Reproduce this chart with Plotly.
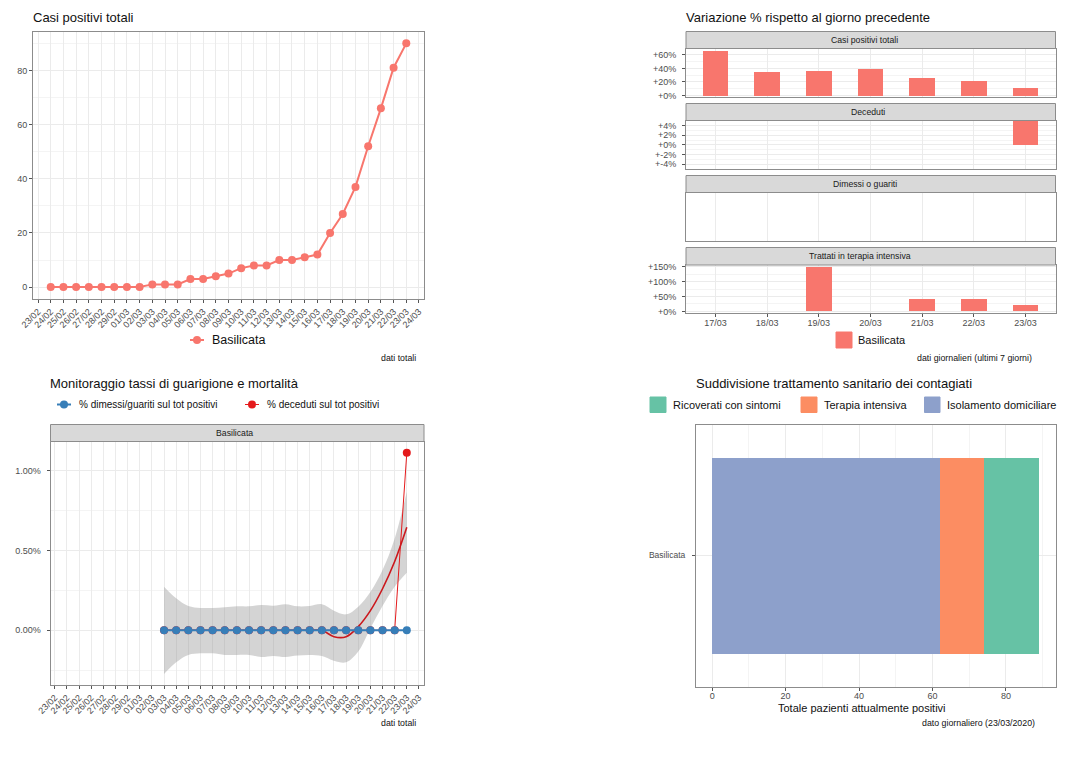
import pandas as pd
import plotly.graph_objects as go

W, H = 1067, 763
FONT = "Liberation Sans"

# casi positivi totali
casi_date = pd.date_range("2020-02-24", "2020-03-23").strftime("%Y-%m-%d").tolist()
casi_tot = [0, 0, 0, 0, 0, 0, 0, 0, 1, 1, 1, 3, 3, 4, 5, 7, 8, 8, 10, 10, 11, 12, 20, 27, 37, 52, 66, 81, 90]

# variazioni % ultimi 7 giorni
giorni = ["17/03", "18/03", "19/03", "20/03", "21/03", "22/03", "23/03"]
var_casi = [66.7, 35, 37, 40.5, 26.9, 22.7, 11.1]
var_deceduti = [None, None, None, None, None, None, 5]
var_dimessi = [None, None, None, None, None, None, None]
var_terapia = [None, None, 150, None, 40, 43, 20]

# tassi
tassi_date = pd.date_range("2020-03-03", "2020-03-23").strftime("%Y-%m-%d").tolist()
tasso_dimessi = [0] * 21
tasso_deceduti = [0] * 20 + [1.11]
smooth = [0, 0, 0, 0, 0, 0, 0, 0, 0, 0, 0, 0, 0, 0, -0.04, -0.04, 0.023, 0.123, 0.26, 0.43, 0.644]
smooth_up = [0.273, 0.2, 0.152, 0.14, 0.14, 0.144, 0.15, 0.15, 0.158, 0.154, 0.163, 0.15, 0.152, 0.163, 0.123, 0.1, 0.148, 0.24, 0.377, 0.575, 0.867]
smooth_lo = [-0.273, -0.2, -0.154, -0.144, -0.144, -0.154, -0.154, -0.154, -0.167, -0.16, -0.167, -0.158, -0.154, -0.16, -0.19, -0.2, -0.133, 0.013, 0.152, 0.273, 0.36]

# suddivisione
regione = ["Basilicata"]
isolamento = [62]
terapia = [12]
ricoverati = [15]

ROSA = "#F8766D"
BLU = "#377EB8"
ROSSO = "#E41A1C"
GRID = "#ebebeb"
GRID2 = "#f4f4f4"
BORDO = "#8c8c8c"
TESTO = "#4d4d4d"


def px_x(a, b):
    return [a / W, b / W]


def px_y(a, b):
    return [1 - b / H, 1 - a / H]


def asse(**kw):
    d = dict(
        showline=True, mirror=True, linecolor=BORDO, linewidth=1, automargin=False,
        gridcolor=GRID, gridwidth=1, zeroline=False,
        ticks="outside", ticklen=3, tickcolor="#555555", tickwidth=1,
        tickfont=dict(size=9, color=TESTO, family=FONT),
    )
    d.update(kw)
    return d


def minor(step):
    return dict(dtick=step, showgrid=True, gridcolor=GRID2, gridwidth=1, ticks="")


def testo(x, y, s, size=9, anchor="left", color="#111111"):
    # le annotazioni hanno un piccolo padding interno
    if anchor == "left":
        x -= 2
    elif anchor == "right":
        x += 1
    return dict(x=x / W, y=1 - y / H, xref="paper", yref="paper", text=s, showarrow=False,
                xanchor=anchor, yanchor="middle", font=dict(size=size, color=color, family=FONT))


def box(x0, y0, x1, y1, fill, line=None):
    return dict(type="rect", xref="paper", yref="paper", x0=x0 / W, x1=x1 / W, y0=1 - y0 / H, y1=1 - y1 / H,
                fillcolor=fill, line=dict(color=line or fill, width=1), layer="above")


def chiave(x, y, col, lw=2):
    # simbolo di legenda: linea con punto
    return [
        dict(type="line", xref="paper", yref="paper", x0=(x - 7) / W, x1=(x + 7) / W, y0=1 - y / H, y1=1 - y / H,
             line=dict(color=col, width=lw)),
        dict(type="circle", xref="paper", yref="paper", x0=(x - 4) / W, x1=(x + 4) / W,
             y0=1 - (y + 4) / H, y1=1 - (y - 4) / H, fillcolor=col, line=dict(color=col, width=0)),
    ]


fig = go.Figure()

# --- casi positivi totali
fig.add_trace(go.Scatter(x=casi_date, y=casi_tot, mode="lines+markers", name="Basilicata",
                         line=dict(color=ROSA, width=2), marker=dict(color=ROSA, size=8),
                         xaxis="x", yaxis="y"))

# --- variazioni, 4 faccette
for i, vals in enumerate([var_casi, var_deceduti, var_dimessi, var_terapia]):
    n = i + 2
    fig.add_trace(go.Bar(x=giorni, y=vals, width=0.5, marker=dict(color=ROSA, line_width=0), name="Basilicata",
                         xaxis=f"x{n}", yaxis=f"y{n}"))

# --- tassi
fig.add_trace(go.Scatter(x=tassi_date, y=smooth_up, mode="lines", line=dict(width=0, shape="spline"),
                         hoverinfo="skip", xaxis="x6", yaxis="y6"))
fig.add_trace(go.Scatter(x=tassi_date, y=smooth_lo, mode="lines", line=dict(width=0, shape="spline"),
                         fill="tonexty", fillcolor="rgba(153,153,153,0.42)", hoverinfo="skip", xaxis="x6", yaxis="y6"))
fig.add_trace(go.Scatter(x=tassi_date, y=tasso_deceduti, mode="lines+markers", name="% deceduti sul tot positivi",
                         line=dict(color=ROSSO, width=1), marker=dict(color=ROSSO, size=8), xaxis="x6", yaxis="y6"))
fig.add_trace(go.Scatter(x=tassi_date, y=smooth, mode="lines", line=dict(color="#CB181D", width=1.6, shape="spline"),
                         hoverinfo="skip", xaxis="x6", yaxis="y6"))
fig.add_trace(go.Scatter(x=tassi_date, y=tasso_dimessi, mode="lines+markers", name="% dimessi/guariti sul tot positivi",
                         line=dict(color=BLU, width=2), marker=dict(color=BLU, size=8), xaxis="x6", yaxis="y6"))

# --- suddivisione
for nome, vals, col in [("Isolamento domiciliare", isolamento, "#8DA0CB"),
                        ("Terapia intensiva", terapia, "#FC8D62"),
                        ("Ricoverati con sintomi", ricoverati, "#66C2A5")]:
    fig.add_trace(go.Bar(y=regione, x=vals, orientation="h", width=0.9, name=nome,
                         marker=dict(color=col, line_width=0), xaxis="x7", yaxis="y7"))

asse_date = dict(type="date", dtick=86400000, tickformat="%d/%m", tickangle=-45)
asse_giorni = dict(type="category", categoryorder="array", categoryarray=giorni, range=[-0.57, 6.58])

fig.update_layout(
    width=W, height=H, margin=dict(l=0, r=0, t=0, b=0), showlegend=False,
    paper_bgcolor="white", plot_bgcolor="white", barmode="stack", bargap=0,
    font=dict(family=FONT),
    xaxis=asse(domain=px_x(33, 424), anchor="y", range=["2020-02-22 14:30", "2020-03-24 09:30"], **asse_date),
    yaxis=asse(domain=px_y(32, 299), anchor="x", range=[-4.4, 94.2], dtick=20, tick0=0, minor=minor(10)),

    xaxis2=asse(domain=px_x(686, 1055.5), anchor="y2", ticks="", showticklabels=False, **asse_giorni),
    yaxis2=asse(domain=px_y(48.5, 97), anchor="x2", range=[-2.3, 69.4], tickvals=[0, 20, 40, 60], ticklabelstandoff=4,
                ticktext=["+0%", "+20%", "+40%", "+60%"], minor=dict(tickvals=[10, 30, 50], showgrid=True, gridcolor=GRID2, ticks="")),
    xaxis3=asse(domain=px_x(686, 1055.5), anchor="y3", ticks="", showticklabels=False, **asse_giorni),
    yaxis3=asse(domain=px_y(120.5, 169), anchor="x3", range=[-5, 5.05], tickvals=[-4, -2, 0, 2, 4], ticklabelstandoff=4,
                ticktext=["+-4%", "+-2%", "+0%", "+2%", "+4%"], minor=dict(tickvals=[-3, -1, 1, 3], showgrid=True, gridcolor=GRID2, ticks="")),
    xaxis4=asse(domain=px_x(686, 1055.5), anchor="y4", ticks="", showticklabels=False, **asse_giorni),
    yaxis4=asse(domain=px_y(192.5, 241), anchor="x4", range=[0, 1], showgrid=False, ticks="", showticklabels=False),
    xaxis5=asse(domain=px_x(686, 1055.5), anchor="y5", ticklabelstandoff=-2, **asse_giorni),
    yaxis5=asse(domain=px_y(265, 313), anchor="x5", range=[-5.3, 155.6], tickvals=[0, 50, 100, 150], ticklabelstandoff=4,
                ticktext=["+0%", "+50%", "+100%", "+150%"], minor=dict(tickvals=[25, 75, 125], showgrid=True, gridcolor=GRID2, ticks="")),

    xaxis6=asse(domain=px_x(50.5, 424), anchor="y6", range=["2020-02-22 15:30", "2020-03-24 10:00"], **asse_date),
    yaxis6=asse(domain=px_y(441.5, 685), anchor="x6", range=[-0.342, 1.181], tickvals=[0, 0.5, 1], ticklabelstandoff=4,
                ticktext=["0.00%", "0.50%", "1.00%"], minor=dict(tickvals=[-0.25, 0.25, 0.75], showgrid=True, gridcolor=GRID2, ticks="")),

    xaxis7=asse(domain=px_x(696, 1055.5), anchor="y7", range=[-4.4, 93.5], dtick=20, tick0=0, minor=minor(10), ticklabelstandoff=-2),
    yaxis7=asse(domain=px_y(424.5, 686.5), anchor="x7", type="category", range=[-0.6, 0.6], ticklabelstandoff=5,
                tickfont=dict(size=8.5, color=TESTO, family=FONT)),
)

strisce = [
    (686, 31.5, 1055.5, 48.5, "Casi positivi totali", 864),
    (686, 103.5, 1055.5, 120.5, "Deceduti", 868),
    (686, 175.5, 1055.5, 192.5, "Dimessi o guariti", 865),
    (686, 247.5, 1055.5, 265, "Trattati in terapia intensiva", 860),
    (50.5, 424.5, 424, 441.5, "Basilicata", 234),
]

shapes = [box(a, b, c, d, "#d9d9d9", BORDO) for a, b, c, d, _, _ in strisce]
shapes += chiave(197, 340, ROSA)
shapes += [box(836, 332, 852, 348, ROSA)]
shapes += chiave(64, 404.5, BLU) + chiave(252, 404.5, ROSSO, 1)
shapes += [box(650, 397, 666, 412.5, "#66C2A5"), box(801, 397, 817, 412.5, "#FC8D62"), box(924.5, 397, 940, 412.5, "#8DA0CB")]

notes = [testo(x, (b + d) / 2, s, 8.7, "center", "#1a1a1a") for a, b, c, d, s, x in strisce]
notes += [
    testo(33, 18, "Casi positivi totali", 13),
    testo(686, 18, "Variazione % rispetto al giorno precedente", 13),
    testo(50, 383.5, "Monitoraggio tassi di guarigione e mortalità", 13),
    testo(696, 383.5, "Suddivisione trattamento sanitario dei contagiati", 13),
    testo(211.5, 340, "Basilicata", 12.5),
    testo(858, 340, "Basilicata", 11),
    testo(416.5, 357.5, "dati totali", 8.8, "right"),
    testo(1032.5, 357.5, "dati giornalieri (ultimi 7 giorni)", 8.8, "right"),
    testo(416.5, 722.5, "dati totali", 8.8, "right"),
    testo(1035.5, 722.5, "dato giornaliero (23/03/2020)", 8.8, "right"),
    testo(78.5, 404.5, "% dimessi/guariti sul tot positivi", 10),
    testo(266.5, 404.5, "% deceduti sul tot positivi", 10),
    testo(672.5, 405, "Ricoverati con sintomi", 11),
    testo(824, 405, "Terapia intensiva", 11),
    testo(947, 405, "Isolamento domiciliare", 11),
    testo(862, 708, "Totale pazienti attualmente positivi", 11, "center"),
]
fig.update_layout(shapes=shapes, annotations=notes)

fig.write_html("out.html", config=dict(displayModeBar=False), post_script="document.body.style.margin='0';")
